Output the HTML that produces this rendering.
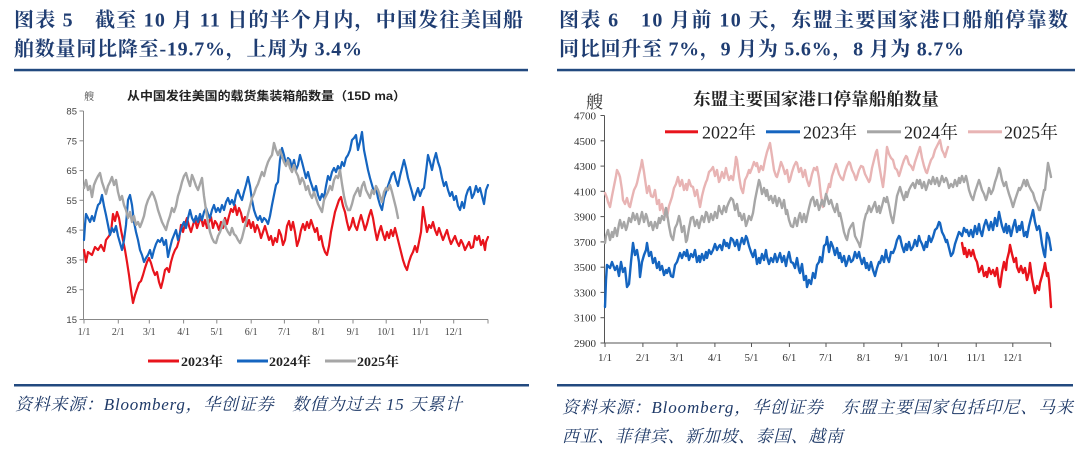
<!DOCTYPE html>
<html><head><meta charset="utf-8">
<style>
html,body{margin:0;padding:0;background:#fff;}
svg{display:block;}
.ttl{font-family:"Liberation Serif","Noto Serif CJK SC",serif;font-weight:bold;font-size:20px;fill:#1f3d72;}
.fn{font-family:"Liberation Serif","Noto Serif CJK SC",serif;font-style:italic;font-size:17px;fill:#1f3a68;}
.ly{font-family:"Liberation Sans",sans-serif;font-size:9.5px;fill:#444;}
.lx{font-family:"Liberation Serif",serif;font-size:10px;fill:#444;}
.ry{font-family:"Liberation Serif",serif;font-size:11px;fill:#333;}
.rx{font-family:"Liberation Serif",serif;font-size:11px;fill:#333;}
.s{fill:none;stroke-linejoin:round;stroke-linecap:round;}
</style></head>
<body>
<svg width="1080" height="451" viewBox="0 0 1080 451" xmlns="http://www.w3.org/2000/svg">
<rect width="1080" height="451" fill="#fff"/>

<!-- Titles -->
<text class="ttl" x="14" y="26.5" textLength="509" lengthAdjust="spacing">图表 5　截至 10 月 11 日的半个月内，中国发往美国船</text>
<text class="ttl" x="14" y="55.5" textLength="348" lengthAdjust="spacing">舶数量同比降至-19.7%，上周为 3.4%</text>
<text class="ttl" x="559" y="26.5" textLength="509" lengthAdjust="spacing">图表 6　10 月前 10 天，东盟主要国家港口船舶停靠数</text>
<text class="ttl" x="559" y="55.5" textLength="405" lengthAdjust="spacing">同比回升至 7%，9 月为 5.6%，8 月为 8.7%</text>
<rect x="14" y="68.8" width="514" height="2.5" fill="#22497f"/>
<rect x="557" y="68.8" width="518" height="2.5" fill="#22497f"/>

<!-- LEFT CHART -->
<text x="84" y="100" font-family="'Liberation Serif','Noto Serif CJK SC',serif" font-size="10" fill="#444">艘</text>
<text x="127" y="100" font-family="'Liberation Sans','Noto Sans CJK SC',sans-serif" font-size="12" font-weight="bold" fill="#222" textLength="279" lengthAdjust="spacingAndGlyphs">从中国发往美国的载货集装箱船数量（15D ma）</text>
<g stroke="#888" stroke-width="1">
<line x1="83.5" y1="111" x2="83.5" y2="319.5"/>
<line x1="83.5" y1="319.5" x2="488" y2="319.5"/>
<line x1="79.5" y1="111" x2="83.5" y2="111"/>
<line x1="79.5" y1="140.8" x2="83.5" y2="140.8"/>
<line x1="79.5" y1="170.6" x2="83.5" y2="170.6"/>
<line x1="79.5" y1="200.3" x2="83.5" y2="200.3"/>
<line x1="79.5" y1="230.1" x2="83.5" y2="230.1"/>
<line x1="79.5" y1="259.9" x2="83.5" y2="259.9"/>
<line x1="79.5" y1="289.7" x2="83.5" y2="289.7"/>
<line x1="79.5" y1="319.5" x2="83.5" y2="319.5"/>
<line x1="84" y1="319.5" x2="84" y2="323.5"/>
<line x1="118.3" y1="319.5" x2="118.3" y2="323.5"/>
<line x1="149.3" y1="319.5" x2="149.3" y2="323.5"/>
<line x1="183.6" y1="319.5" x2="183.6" y2="323.5"/>
<line x1="216.8" y1="319.5" x2="216.8" y2="323.5"/>
<line x1="251.2" y1="319.5" x2="251.2" y2="323.5"/>
<line x1="284.4" y1="319.5" x2="284.4" y2="323.5"/>
<line x1="318.7" y1="319.5" x2="318.7" y2="323.5"/>
<line x1="353" y1="319.5" x2="353" y2="323.5"/>
<line x1="386.2" y1="319.5" x2="386.2" y2="323.5"/>
<line x1="420.5" y1="319.5" x2="420.5" y2="323.5"/>
<line x1="453.7" y1="319.5" x2="453.7" y2="323.5"/>
<line x1="488" y1="319.5" x2="488" y2="323.5"/>
</g>
<g class="ly" text-anchor="end">
<text x="77" y="114.5">85</text><text x="77" y="144.3">75</text><text x="77" y="174.1">65</text><text x="77" y="203.8">55</text>
<text x="77" y="233.6">45</text><text x="77" y="263.4">35</text><text x="77" y="293.2">25</text><text x="77" y="323">15</text>
</g>
<g class="lx" text-anchor="middle">
<text x="84" y="335">1/1</text><text x="118.3" y="335">2/1</text><text x="149.3" y="335">3/1</text><text x="183.6" y="335">4/1</text>
<text x="216.8" y="335">5/1</text><text x="251.2" y="335">6/1</text><text x="284.4" y="335">7/1</text><text x="318.7" y="335">8/1</text>
<text x="353" y="335">9/1</text><text x="386.2" y="335">10/1</text><text x="420.5" y="335">11/1</text><text x="453.7" y="335">12/1</text>
</g>

<polyline class="s" stroke="#e8141c" stroke-width="2.2" points="84,250 86,262 88,252 92,255 95,247 98,250 101,245 104,251 106,240 109,236 111,232 113,214 115,221 117,212 119,218 121,230 123,240 125,250 127,262 129,275 131,290 133,303 135,295 137,289 139,283 141,281 143,275 145,268 147,262 149,258 151,263 153,270 155,275 157,272 159,282 161,288 163,280 165,270 167,268 169,272 171,262 173,255 175,250 177,247 179,240 181,225 183,232 185,224 187,218 189,226 191,232 193,225 195,219 197,228 199,222 201,217 203,226 205,220 207,228 209,222 211,217 213,228 215,221 217,224 219,230 221,222 223,228 225,218 227,224 229,216 231,209 233,212 235,205 237,215 239,208 241,213 243,222 245,217 247,226 249,220 251,228 253,222 255,232 257,225 259,230 261,238 263,232 265,226 267,233 269,240 271,236 273,245 275,238 277,242 279,230 281,235 283,245 285,240 287,226 289,221 291,230 293,222 295,232 297,246 299,240 301,230 303,224 305,230 307,222 309,228 311,220 313,226 315,232 317,228 319,240 321,236 323,246 325,252 327,255 329,246 331,232 333,222 335,212 337,206 339,200 341,197 343,206 345,212 347,222 349,230 351,226 353,218 355,226 357,230 359,222 361,215 363,222 365,230 367,224 369,216 371,210 373,218 375,230 377,240 379,232 381,226 383,234 385,240 387,232 389,238 391,230 393,236 395,228 397,236 399,244 401,252 403,260 405,266 407,270 409,262 411,256 413,252 415,246 417,252 419,242 421,232 423,207 425,220 427,232 429,225 431,228 433,222 435,230 437,235 439,228 441,234 443,240 445,235 447,230 449,238 451,244 453,240 455,236 457,242 459,246 461,240 463,244 465,250 467,246 469,242 471,248 473,247 475,236 477,240 479,236 481,245 483,240 485,250 486,242 488,237"/>
<polyline class="s" stroke="#1565c0" stroke-width="2.2" points="84,240 85,225 86,214 88,218 90,222 92,216 94,221 96,212 98,205 100,203 102,195 104,206 106,215 108,225 110,235 112,228 114,232 116,226 118,236 120,243 122,250 124,240 126,225 128,200 130,195 132,205 134,222 136,232 138,240 140,250 142,255 144,262 146,258 148,255 150,250 152,258 154,250 156,244 158,240 160,242 162,238 164,245 166,240 168,257 170,248 172,240 174,235 176,230 178,240 180,233 182,226 184,222 186,228 188,218 190,210 192,218 194,222 196,216 198,222 200,214 202,220 204,212 206,208 208,214 210,218 212,210 214,205 216,212 218,208 220,212 222,205 224,210 226,202 228,198 230,204 232,200 234,205 236,195 238,190 240,196 242,200 244,192 246,185 248,177 250,186 252,200 254,210 256,216 258,220 260,216 262,222 264,218 266,220 268,224 270,216 272,205 274,195 276,185 278,182 280,160 282,148 284,155 286,165 288,158 290,160 292,168 294,160 296,170 298,165 300,155 302,162 304,170 306,178 308,172 310,180 312,186 314,192 316,186 318,195 320,200 322,194 324,198 326,186 328,176 330,180 332,172 334,168 336,172 338,166 340,170 342,162 344,166 346,158 348,155 350,150 352,140 354,138 356,135 358,150 360,142 362,132 364,150 366,160 368,170 370,178 372,185 374,192 376,188 378,198 380,205 382,210 384,198 386,192 388,186 390,180 392,174 394,172 396,180 398,186 400,176 402,168 404,160 406,168 408,178 410,185 412,192 414,200 416,194 418,188 420,196 422,190 424,188 426,172 428,155 430,162 432,170 434,160 436,153 438,162 440,168 442,178 444,186 446,182 448,190 450,196 452,192 454,200 456,196 458,206 460,210 462,202 464,208 466,196 468,190 470,187 472,198 474,194 476,186 478,192 480,188 482,196 484,204 486,190 488,185"/>
<polyline class="s" stroke="#a6a6a6" stroke-width="2.4" points="84,188 86,180 88,190 90,186 92,197 94,185 96,180 98,176 100,173 102,182 104,188 106,194 108,186 110,182 112,177 114,185 116,180 118,192 120,200 122,196 124,205 126,210 128,218 130,212 132,222 134,216 136,225 138,222 140,227 142,222 144,216 146,206 148,200 150,196 152,192 154,196 156,202 158,210 160,216 162,222 164,226 166,230 168,222 170,216 172,208 174,212 176,206 178,196 180,190 182,182 184,176 186,173 188,180 190,186 192,175 194,180 196,186 198,190 200,184 202,178 204,196 206,210 208,222 210,232 212,238 214,242 216,243 218,236 220,232 222,226 224,220 226,228 228,232 230,235 232,228 234,234 236,236 238,240 240,243 242,238 244,230 246,222 248,214 250,206 252,198 254,194 256,188 258,184 260,178 262,172 264,176 266,168 268,162 270,158 272,155 274,143 276,150 278,155 280,150 282,156 284,162 286,166 288,160 290,168 292,172 294,165 296,172 298,176 300,184 302,178 304,182 306,190 308,186 310,194 312,198 314,192 316,198 318,204 320,208 322,212 324,200 326,196 328,192 330,186 332,190 334,180 336,176 338,178 340,170 342,184 344,196 346,205 348,210 350,210 352,204 354,196 356,192 358,188 360,196 362,186 364,182 366,190 368,194 370,198 372,190 374,194 376,186 378,190 380,196 382,202 384,192 386,188 388,190 390,185 392,192 394,200 396,208 398,218"/>

<!-- left legend -->
<g font-family="'Liberation Serif','Noto Serif CJK SC',serif" font-weight="bold" font-size="13" fill="#222">
<rect x="148" y="359.5" width="31" height="3" fill="#e8141c"/>
<text x="181" y="366" textLength="42" lengthAdjust="spacingAndGlyphs">2023年</text>
<rect x="237" y="359.5" width="31" height="3" fill="#1565c0"/>
<text x="269" y="366" textLength="42" lengthAdjust="spacingAndGlyphs">2024年</text>
<rect x="325" y="359.5" width="31" height="3" fill="#a6a6a6"/>
<text x="357" y="366" textLength="42" lengthAdjust="spacingAndGlyphs">2025年</text>
</g>

<!-- RIGHT CHART -->
<text x="586" y="108" font-family="'Liberation Serif','Noto Serif CJK SC',serif" font-size="17" fill="#333">艘</text>
<text x="693" y="105" font-family="'Liberation Serif','Noto Serif CJK SC',serif" font-size="17" font-weight="bold" fill="#222" textLength="246" lengthAdjust="spacingAndGlyphs">东盟主要国家港口停靠船舶数量</text>
<g stroke="#555" stroke-width="1">
<line x1="604.5" y1="115.5" x2="604.5" y2="343"/>
<line x1="604.5" y1="343" x2="1051" y2="343"/>
<line x1="600.5" y1="115.5" x2="604.5" y2="115.5"/>
<line x1="600.5" y1="140.8" x2="604.5" y2="140.8"/>
<line x1="600.5" y1="166.1" x2="604.5" y2="166.1"/>
<line x1="600.5" y1="191.3" x2="604.5" y2="191.3"/>
<line x1="600.5" y1="216.6" x2="604.5" y2="216.6"/>
<line x1="600.5" y1="241.9" x2="604.5" y2="241.9"/>
<line x1="600.5" y1="267.2" x2="604.5" y2="267.2"/>
<line x1="600.5" y1="292.4" x2="604.5" y2="292.4"/>
<line x1="600.5" y1="317.7" x2="604.5" y2="317.7"/>
<line x1="600.5" y1="343" x2="604.5" y2="343"/>
<line x1="605" y1="343" x2="605" y2="347"/>
<line x1="642.9" y1="343" x2="642.9" y2="347"/>
<line x1="677" y1="343" x2="677" y2="347"/>
<line x1="714.9" y1="343" x2="714.9" y2="347"/>
<line x1="751.5" y1="343" x2="751.5" y2="347"/>
<line x1="789.4" y1="343" x2="789.4" y2="347"/>
<line x1="826" y1="343" x2="826" y2="347"/>
<line x1="863.9" y1="343" x2="863.9" y2="347"/>
<line x1="901.7" y1="343" x2="901.7" y2="347"/>
<line x1="938.3" y1="343" x2="938.3" y2="347"/>
<line x1="976.2" y1="343" x2="976.2" y2="347"/>
<line x1="1012.8" y1="343" x2="1012.8" y2="347"/>
<line x1="1050.7" y1="343" x2="1050.7" y2="347"/>
</g>
<g class="ry" text-anchor="end">
<text x="596" y="119.5">4700</text><text x="596" y="144.8">4500</text><text x="596" y="170.1">4300</text><text x="596" y="195.3">4100</text>
<text x="596" y="220.6">3900</text><text x="596" y="245.9">3700</text><text x="596" y="271.2">3500</text><text x="596" y="296.4">3300</text>
<text x="596" y="321.7">3100</text><text x="596" y="347">2900</text>
</g>
<g class="rx" text-anchor="middle">
<text x="605" y="361">1/1</text><text x="642.9" y="361">2/1</text><text x="677" y="361">3/1</text><text x="714.9" y="361">4/1</text>
<text x="751.5" y="361">5/1</text><text x="789.4" y="361">6/1</text><text x="826" y="361">7/1</text><text x="863.9" y="361">8/1</text>
<text x="901.7" y="361">9/1</text><text x="938.3" y="361">10/1</text><text x="976.2" y="361">11/1</text><text x="1012.8" y="361">12/1</text>
</g>

<polyline class="s" stroke="#e8b4b4" stroke-width="2.4" points="605,193 607,198 608,202 610,207 612,196 614,186 616,176 617,170 619,174 620,177 622,190 623,200 625,204 627,198 629,206 630,207 632,198 634,190 636,186 637,183 639,174 641,166 642,160 644,172 646,186 647,193 649,186 651,196 653,197 655,190 657,204 659,200 660,210 662,204 664,214 666,208 667,217 669,206 671,200 672,197 674,188 676,184 678,177 680,186 682,180 684,190 686,184 687,190 689,180 691,186 693,187 695,196 697,190 699,202 700,207 702,196 704,188 706,182 707,180 709,172 711,170 713,167 715,176 717,170 719,182 720,180 722,172 724,178 726,168 727,173 729,180 731,176 733,180 735,166 736,157 737,160 739,176 741,188 743,193 745,180 747,176 749,170 750,173 752,168 754,162 756,166 757,163 759,172 761,166 763,170 765,160 767,152 769,146 770,143 772,156 774,170 776,176 777,177 779,170 781,162 783,167 785,174 787,170 789,182 790,180 792,172 794,166 796,162 797,163 799,172 801,168 803,177 805,170 807,180 809,186 810,183 812,174 814,168 816,170 817,167 819,178 821,196 823,207 825,198 827,192 829,184 830,187 832,176 834,170 836,164 837,167 839,174 841,178 843,180 845,172 847,166 849,162 850,163 852,170 854,174 856,180 857,177 859,170 861,166 863,167 865,174 867,178 869,182 870,180 872,168 874,160 876,152 877,150 879,164 881,176 883,187 885,170 887,147 889,154 891,158 893,160 895,168 897,170 899,176 900,173 902,166 904,160 906,156 907,157 909,164 911,166 913,170 915,162 917,156 919,150 920,147 922,158 924,166 926,172 927,173 929,166 931,160 933,157 935,150 937,146 939,142 940,140 942,150 944,154 945,157 947,150 948,147"/>
<polyline class="s" stroke="#a6a6a6" stroke-width="2.4" points="605,243 606,236 608,230 610,240 612,232 613,237 615,228 617,236 619,224 620,220 622,228 624,222 626,230 627,227 629,218 631,222 633,213 635,220 637,214 639,224 640,220 642,212 644,222 646,214 647,217 649,226 651,222 653,230 655,222 657,228 659,218 660,223 662,216 664,220 666,208 667,213 669,226 671,236 673,240 675,228 677,224 679,216 680,220 682,232 684,226 686,242 687,240 689,228 691,218 693,217 695,226 697,220 699,228 700,223 702,216 704,222 706,212 707,213 709,222 711,214 713,220 715,212 717,218 719,206 720,210 722,214 724,206 726,212 727,207 729,202 731,198 733,200 735,210 737,204 739,216 740,213 742,220 744,214 746,226 747,223 749,216 751,220 753,213 755,200 757,190 759,180 760,183 762,194 764,188 766,196 767,190 769,200 771,196 773,203 775,196 777,206 779,198 780,200 782,208 784,200 786,214 787,210 789,220 791,226 793,227 795,218 797,226 799,216 800,213 802,222 804,214 806,222 807,217 809,208 811,200 813,197 815,206 817,200 819,210 820,207 822,200 824,206 826,194 827,197 829,204 831,200 833,207 835,212 837,204 839,216 840,213 842,222 844,232 846,238 847,240 849,230 851,226 853,223 855,236 857,240 859,244 860,247 862,236 864,222 866,214 867,213 869,206 871,212 873,207 875,202 877,212 879,206 880,213 882,206 884,198 886,202 887,197 889,206 891,216 893,223 895,210 897,196 899,190 900,187 902,194 904,200 906,192 907,197 909,190 911,186 913,183 915,188 917,180 919,184 920,180 922,188 924,182 926,190 927,187 929,180 931,184 933,177 935,184 937,178 939,186 940,183 942,176 944,182 946,178 947,180 949,188 951,184 953,187 955,180 957,186 959,178 960,183 962,176 964,182 966,176 967,180 969,190 971,196 973,200 975,192 977,186 979,180 980,183 982,190 984,194 986,200 987,197 989,188 991,194 993,190 995,182 997,176 999,168 1000,170 1002,180 1004,186 1006,182 1007,187 1009,194 1011,200 1013,207 1015,200 1017,194 1019,188 1020,190 1022,186 1024,180 1026,186 1027,180 1029,186 1031,190 1033,193 1035,200 1037,204 1039,210 1040,210 1042,200 1044,190 1045,190 1047,172 1048,163 1050,172 1051,177"/>
<polyline class="s" stroke="#1565c0" stroke-width="2.4" points="605,307 606,280 607,265 610,268 612,262 615,270 617,266 619,276 621,262 623,272 625,268 627,287 629,284 631,262 633,243 635,255 637,250 639,262 640,277 642,262 644,255 646,250 647,243 649,256 651,252 653,263 655,258 657,268 659,262 660,270 662,266 664,275 666,270 667,273 669,268 671,276 673,277 675,265 677,262 679,256 680,253 682,258 684,252 686,256 687,250 689,260 691,254 693,257 695,250 697,262 699,256 700,262 702,254 704,260 706,252 707,258 709,250 711,254 713,250 715,244 717,250 719,246 720,245 722,250 724,240 726,246 727,243 729,248 731,238 733,240 735,246 737,240 739,250 740,245 742,238 744,244 746,236 747,238 749,246 751,252 753,257 755,250 757,264 759,258 760,263 762,254 764,260 766,250 767,257 769,264 771,258 773,262 775,254 777,262 779,256 780,253 782,262 784,256 786,266 787,260 789,252 791,262 793,263 795,268 797,258 799,270 800,273 802,264 804,280 806,276 807,287 809,280 811,284 813,273 815,278 817,265 819,262 820,257 822,262 824,246 826,244 827,237 829,252 831,242 833,247 835,255 837,248 839,258 840,253 842,262 844,256 846,266 847,263 849,256 851,262 853,260 855,252 857,258 859,252 860,257 862,264 864,258 866,268 867,263 869,270 871,262 873,270 875,276 877,268 879,262 880,263 882,256 884,262 886,250 887,257 889,262 891,252 893,253 895,248 897,240 899,236 900,237 902,246 904,252 906,244 907,250 909,242 911,250 913,247 915,240 917,246 919,236 920,240 922,244 924,250 926,242 927,247 929,236 931,242 933,237 935,230 937,228 939,222 940,223 942,232 944,236 946,242 947,240 949,248 951,256 953,253 955,244 957,238 959,232 960,233 962,236 964,228 966,232 967,230 969,236 971,230 973,237 975,226 977,234 979,224 980,230 982,236 984,226 986,220 987,223 989,230 991,222 993,230 995,218 997,226 999,212 1000,217 1002,226 1004,232 1006,224 1007,233 1009,226 1011,236 1013,227 1015,220 1017,232 1019,226 1020,230 1022,222 1024,236 1026,232 1027,237 1029,226 1031,218 1033,210 1035,222 1037,230 1039,226 1040,230 1042,244 1044,254 1045,257 1047,233 1049,238 1051,250"/>
<polyline class="s" stroke="#e8141c" stroke-width="2.4" points="962,243 964,254 965,248 967,257 969,250 971,256 973,250 975,258 977,262 979,272 980,270 982,266 984,276 986,272 987,277 989,268 991,274 993,270 995,276 997,268 999,284 1000,287 1002,272 1004,262 1006,270 1007,260 1009,252 1010,245 1012,254 1014,262 1016,258 1017,267 1019,272 1021,266 1023,273 1025,268 1027,280 1029,272 1030,263 1032,278 1034,288 1035,293 1037,286 1039,290 1040,283 1042,276 1044,268 1045,263 1047,276 1048,273 1049,280 1050,292 1051,307"/>

<!-- right legend -->
<g font-family="'Liberation Serif','Noto Serif CJK SC',serif" font-size="18" fill="#222">
<rect x="665" y="130.3" width="33" height="3" fill="#e8141c"/>
<text x="702" y="138.5" textLength="54" lengthAdjust="spacingAndGlyphs">2022年</text>
<rect x="766" y="130.3" width="34" height="3" fill="#1565c0"/>
<text x="803" y="138.5" textLength="54" lengthAdjust="spacingAndGlyphs">2023年</text>
<rect x="867" y="130.3" width="34" height="3" fill="#a6a6a6"/>
<text x="904" y="138.5" textLength="54" lengthAdjust="spacingAndGlyphs">2024年</text>
<rect x="968" y="130.3" width="34" height="3" fill="#e8b4b4"/>
<text x="1004" y="138.5" textLength="54" lengthAdjust="spacingAndGlyphs">2025年</text>
</g>

<!-- bottom rules & footnotes -->
<rect x="14" y="384" width="515" height="2.5" fill="#22497f"/>
<rect x="557" y="384" width="516" height="2.5" fill="#22497f"/>
<text class="fn" x="15" y="410" textLength="447" lengthAdjust="spacing">资料来源：Bloomberg，华创证券　数值为过去 15 天累计</text>
<text class="fn" x="562" y="413" textLength="511" lengthAdjust="spacing">资料来源：Bloomberg，华创证券　东盟主要国家包括印尼、马来</text>
<text class="fn" x="562" y="442" textLength="281" lengthAdjust="spacing">西亚、菲律宾、新加坡、泰国、越南</text>
</svg>
</body></html>
